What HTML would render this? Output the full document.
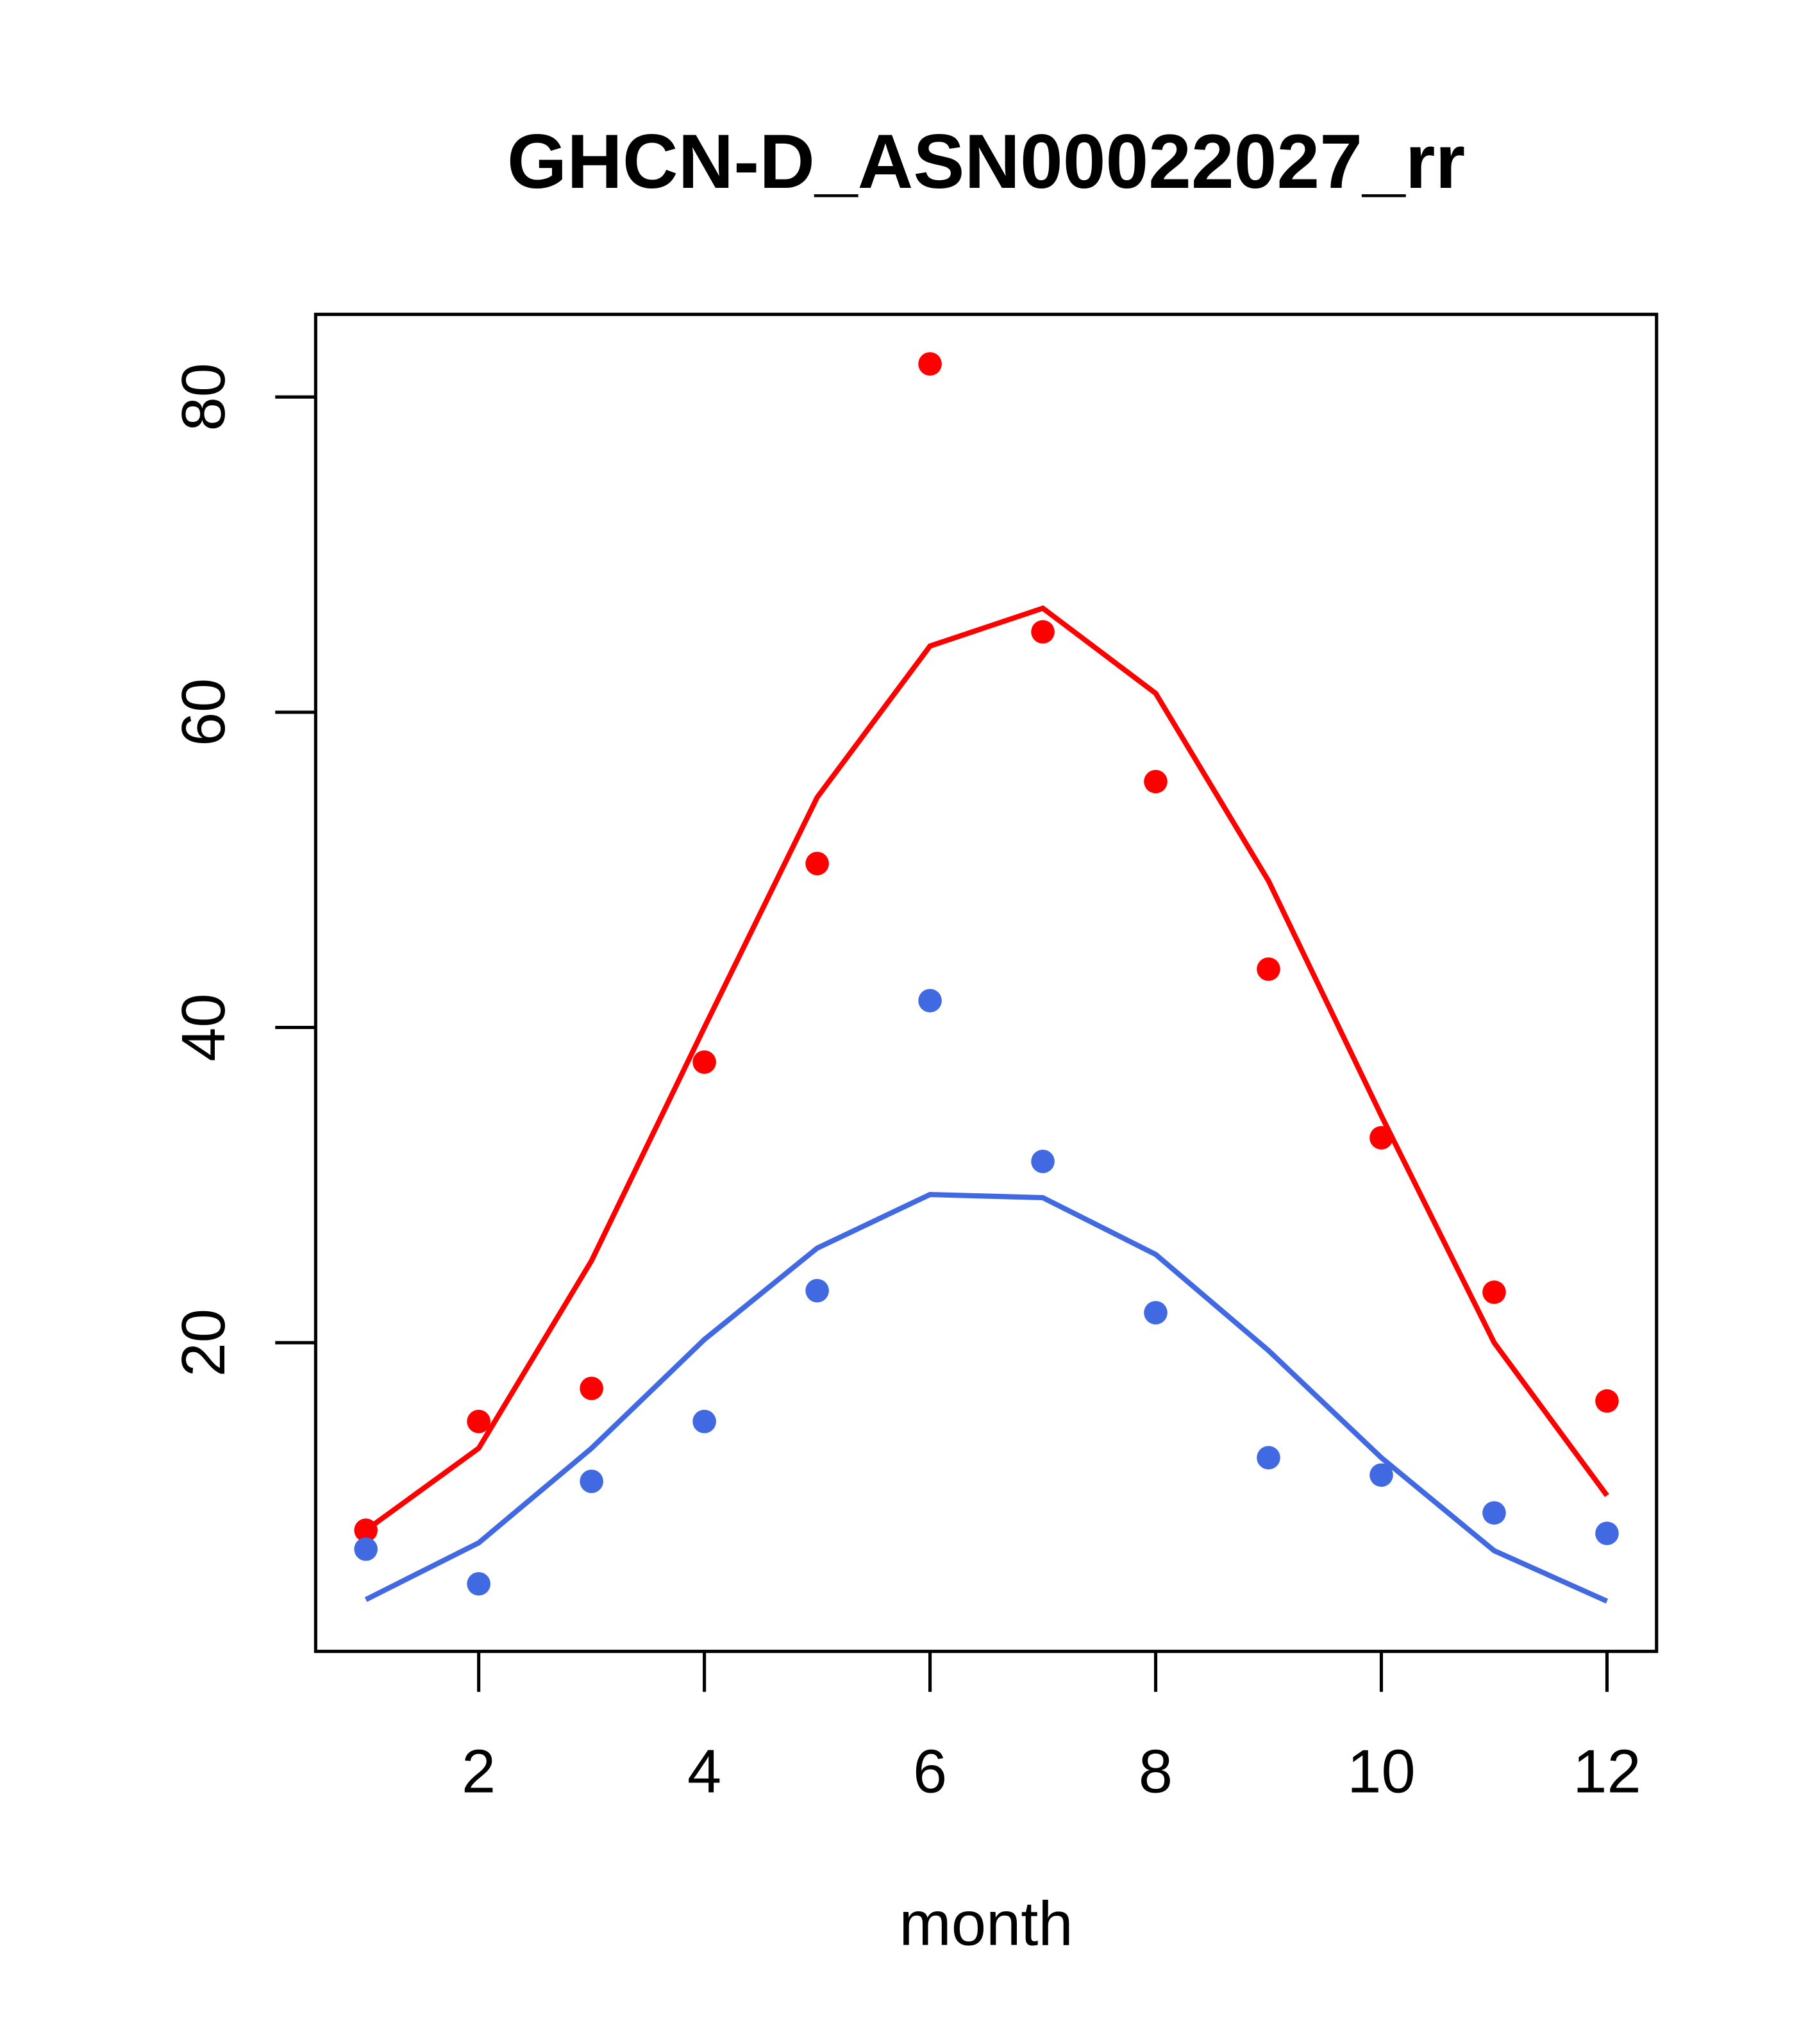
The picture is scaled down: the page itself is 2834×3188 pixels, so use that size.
<!DOCTYPE html>
<html><head><meta charset="utf-8">
<style>
html,body{margin:0;padding:0;background:#fff;}
svg{display:block;}
text{font-family:"Liberation Sans",Arial,sans-serif;}
</style></head>
<body>
<svg id="chart" width="2834" height="3188" viewBox="0 0 1393 1567" xmlns="http://www.w3.org/2000/svg">
<rect width="1393" height="1567" fill="#fff"/>
<text x="756" y="144" text-anchor="middle" font-size="59" font-weight="bold">GHCN-D_ASN00022027_rr</text>
<rect x="242" y="241" width="1028" height="1025" fill="none" stroke="#000" stroke-width="2.5"/>
<text x="756" y="1491" text-anchor="middle" font-size="48">month</text>
<g id="xaxis"></g>
<g id="yaxis"></g>
<g id="series"></g>
</svg>
<script>
const months = [1,2,3,4,5,6,7,8,9,10,11,12];
const redPoints = [8.1,15.0,17.1,37.8,50.4,82.1,65.1,55.6,43.7,33.0,23.2,16.3];
const redLine = [8.1,13.3,25.2,40.0,54.6,64.2,66.6,61.2,49.3,34.4,20.0,10.3];
const bluePoints = [6.9,4.7,11.2,15.0,23.3,41.7,31.5,21.9,12.7,11.6,9.2,7.9];
const blueLine = [3.7,7.3,13.3,20.2,26.0,29.4,29.2,25.6,19.5,12.7,6.8,3.6];
const xTicks = [2,4,6,8,10,12];
const yTicks = [20,40,60,80];

const NS = "http://www.w3.org/2000/svg";
function xs(m){ return 280.5 + (m-1)*86.5; }
function ys(v){ return 1271 - v*12.083; }
function mk(tag, attrs, parent){
  const e = document.createElementNS(NS, tag);
  for (const k in attrs) e.setAttribute(k, attrs[k]);
  parent.appendChild(e);
  return e;
}
const xg = document.getElementById('xaxis');
const yg = document.getElementById('yaxis');
const sg = document.getElementById('series');

xTicks.forEach(t => {
  const l = mk('line', {x1:xs(t), x2:xs(t), y1:1266, y2:1297, stroke:'#000','stroke-width':2.5}, xg);
  
  
  const tx = mk('text', {x:xs(t), y:1374, 'text-anchor':'middle','font-size':47}, xg);
  tx.textContent = t;
  
  
});
yTicks.forEach(t => {
  const l = mk('line', {x1:211, x2:242, y1:ys(t), y2:ys(t), stroke:'#000','stroke-width':2.5}, yg);
  
  
  const y = ys(t);
  const tx = mk('text', {x:172, y:y, 'text-anchor':'middle','font-size':47, transform:'rotate(-90 172 '+y+')'}, yg);
  tx.textContent = t;
  
  
});

function line(vals, color, name){
  const pts = months.map((m,i)=> xs(m)+','+ys(vals[i])).join(' ');
  const p = mk('polyline', {points:pts, fill:'none', stroke:color, 'stroke-width':4}, sg);
  
  
}
function points(vals, color, name){
  months.forEach((m,i)=>{
    const c = mk('circle', {cx:xs(m), cy:ys(vals[i]), r:9, fill:color}, sg);
    
    
  });
}
line(redLine, '#ff0000', 'red-line');
line(blueLine, '#4169e1', 'blue-line');
points(redPoints, '#ff0000', 'red-point');
points(bluePoints, '#4169e1', 'blue-point');
</script>
</body></html>
